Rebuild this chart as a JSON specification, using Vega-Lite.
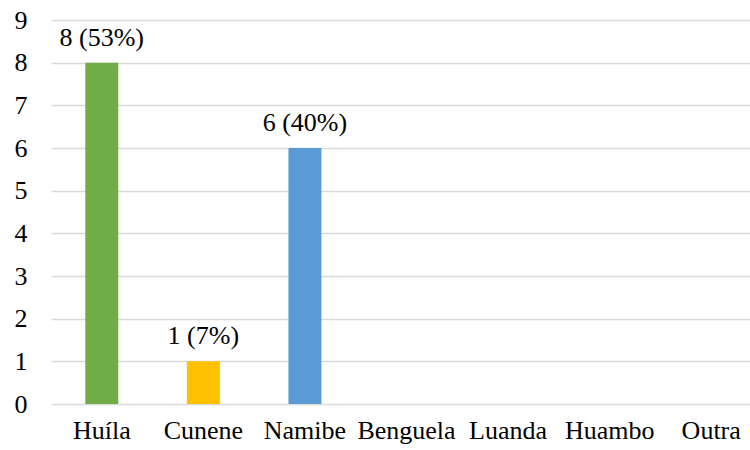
{
  "$schema": "https://vega.github.io/schema/vega-lite/v6.json",
  "autosize": {"type": "none"},
  "padding": {"left": 51, "top": 20, "right": 0, "bottom": 46},
  "width": 711,
  "height": 384,
  "background": "white",
  "config": {"view": {"stroke": null}, "font": "Liberation Serif"},
  "data": {"values": [
    {"provincia": "Huíla", "n": 8, "label": "8 (53%)", "cor": "#70AD47"},
    {"provincia": "Cunene", "n": 1, "label": "1 (7%)", "cor": "#FFC000"},
    {"provincia": "Namibe", "n": 6, "label": "6 (40%)", "cor": "#5B9BD5"},
    {"provincia": "Benguela", "n": 0, "label": "", "cor": "#5B9BD5"},
    {"provincia": "Luanda", "n": 0, "label": "", "cor": "#5B9BD5"},
    {"provincia": "Huambo", "n": 0, "label": "", "cor": "#5B9BD5"},
    {"provincia": "Outra", "n": 0, "label": "", "cor": "#5B9BD5"}
  ]},
  "encoding": {
    "x": {"field": "provincia", "type": "nominal", "sort": null,
      "scale": {"paddingInner": 0, "paddingOuter": 0},
      "axis": {"title": null, "labelAngle": 0, "labelFont": "Liberation Serif", "labelFontSize": 26, "labelColor": "#000", "labelPadding": 13, "labelOverlap": false, "ticks": false, "domain": false, "grid": false}},
    "y": {"field": "n", "type": "quantitative",
      "scale": {"domain": [0, 9]},
      "axis": {"title": null, "values": [0,1,2,3,4,5,6,7,8,9], "labelOverlap": false, "labelFont": "Liberation Serif", "labelFontSize": 26, "labelColor": "#000", "labelPadding": 24, "ticks": false, "domain": false, "gridColor": "#d9d9d9", "gridWidth": 1.5}}
  },
  "layer": [
    {"mark": {"type": "bar", "size": 33},
     "encoding": {"color": {"field": "cor", "type": "nominal", "scale": null}}},
    {"mark": {"type": "text", "baseline": "alphabetic", "dy": -17, "font": "Liberation Serif", "fontSize": 26, "color": "#000"},
     "encoding": {"text": {"field": "label"}}}
  ]
}
